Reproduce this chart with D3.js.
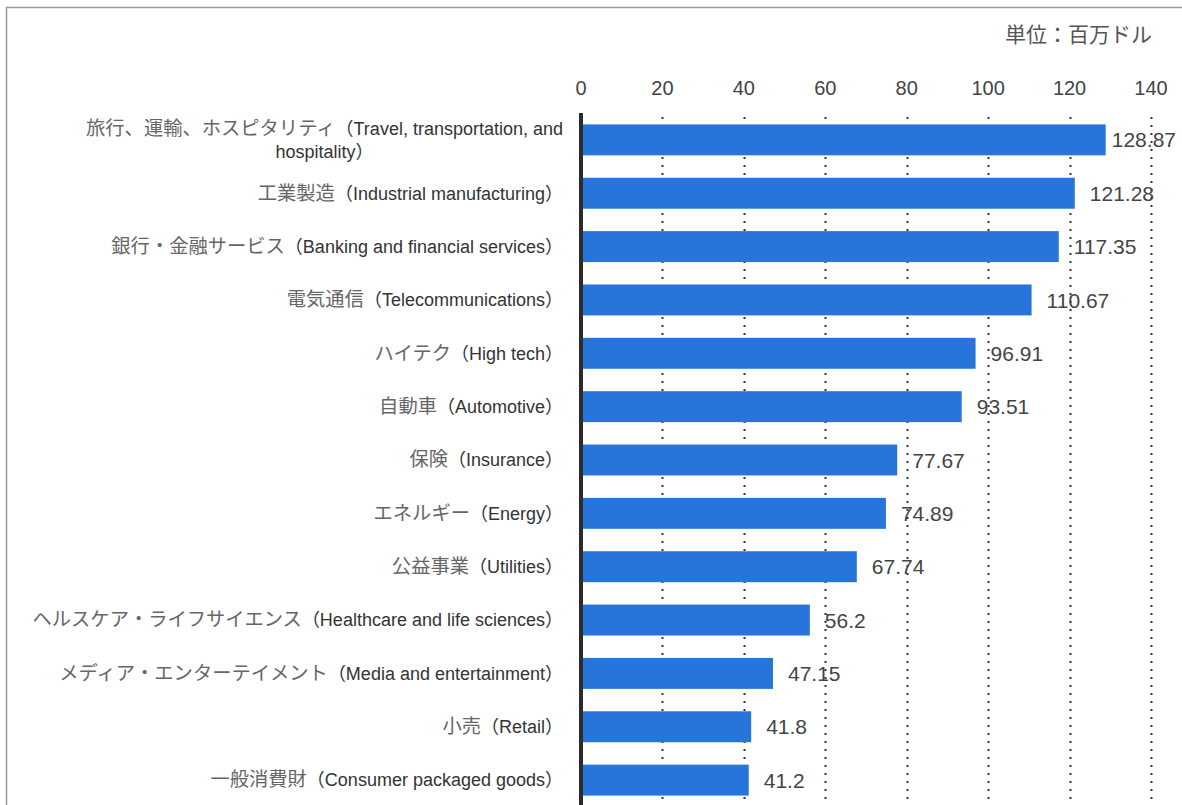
<!DOCTYPE html>
<html>
<head>
<meta charset="utf-8">
<script src="https://cdn.jsdelivr.net/npm/d3@7"></script>
<style>
  body { margin: 0; background: #fff; }
  text { font-family: "Liberation Sans", Arial, "Noto Sans CJK JP", sans-serif; }
</style>
</head>
<body>
<div id="chart"></div>
<script>
var categories = [
  "旅行、運輸、ホスピタリティ（Travel, transportation, and\nhospitality）",
  "工業製造（Industrial manufacturing）",
  "銀行・金融サービス（Banking and financial services）",
  "電気通信（Telecommunications）",
  "ハイテク（High tech）",
  "自動車（Automotive）",
  "保険（Insurance）",
  "エネルギー（Energy）",
  "公益事業（Utilities）",
  "ヘルスケア・ライフサイエンス（Healthcare and life sciences）",
  "メディア・エンターテイメント（Media and entertainment）",
  "小売（Retail）",
  "一般消費財（Consumer packaged goods）"
];
var values = [128.87, 121.28, 117.35, 110.67, 96.91, 93.51, 77.67, 74.89, 67.74, 56.2, 47.15, 41.8, 41.2];
var tickValues = [0, 20, 40, 60, 80, 100, 120, 140];
var unitLabel = "単位：百万ドル";

var svgWidth = 1182;
var svgHeight = 805;

var svg = d3.select("#chart")
  .append("svg")
  .attr("width", svgWidth)
  .attr("height", svgHeight);

// frame lines (top and left)
svg.append("line")
  .attr("x1", 6).attr("y1", 7.5).attr("x2", svgWidth).attr("y2", 7.5)
  .attr("stroke", "#999").attr("stroke-width", 1.5);
svg.append("line")
  .attr("x1", 6.5).attr("y1", 7).attr("x2", 6.5).attr("y2", svgHeight)
  .attr("stroke", "#999").attr("stroke-width", 1.5);

var xScale = d3.scaleLinear()
  .domain([0, 140])
  .range([581, 1151]);

var yScale = d3.scaleBand()
  .domain(categories)
  .range([102, 818])
  .padding(0.42);

// unit
svg.append("text")
  .attr("x", 1152)
  .attr("y", 42)
  .attr("text-anchor", "end")
  .style("font-size", "21px")
  .attr("fill", "#555")
  .text(unitLabel);

// tick labels
svg.append("g")
  .selectAll("text")
  .data(tickValues)
  .enter()
  .append("text")
  .attr("x", d => xScale(d))
  .attr("y", 95)
  .attr("text-anchor", "middle")
  .style("font-size", "20px")
  .attr("fill", "#444")
  .text(d => d);

// dotted gridlines
svg.append("g")
  .selectAll("line")
  .data(tickValues.slice(1))
  .enter()
  .append("line")
  .attr("x1", d => Math.round(xScale(d)) + 0.5)
  .attr("x2", d => Math.round(xScale(d)) + 0.5)
  .attr("y1", 117)
  .attr("y2", svgHeight)
  .attr("stroke", "#333")
  .attr("stroke-width", 2)
  .attr("stroke-dasharray", "2,6");

// bars
svg.append("g")
  .selectAll("rect")
  .data(values)
  .enter()
  .append("rect")
  .attr("x", xScale(0))
  .attr("y", (d, i) => yScale(categories[i]))
  .attr("width", d => xScale(d) - xScale(0))
  .attr("height", yScale.bandwidth())
  .attr("fill", "#2775db");

// axis line
svg.append("line")
  .attr("x1", xScale(0)).attr("x2", xScale(0))
  .attr("y1", 113).attr("y2", svgHeight)
  .attr("stroke", "#2b2b2b")
  .attr("stroke-width", 4);

// value labels
svg.append("g")
  .selectAll("text")
  .data(values)
  .enter()
  .append("text")
  .attr("x", d => xScale(d) + 15)
  .attr("y", (d, i) => yScale(categories[i]) + yScale.bandwidth() / 2)
  .attr("dy", "0.36em")
  .style("font-size", "21px")
  .attr("fill", "#444")
  .text(d => d)
  .each(function() {
    // keep the label inside the chart
    var w = this.getComputedTextLength();
    var x = +d3.select(this).attr("x");
    if (x + w > 1176) d3.select(this).attr("x", 1176 - w);
  });

// category labels
var labelRight = 563;
var lineHeight = 23;
categories.forEach(function(cat, i) {
  var lines = cat.split("\n");
  var cy = yScale(cat) + yScale.bandwidth() / 2;
  var g = svg.append("g");
  var texts = lines.map(function(line, j) {
    var t = g.append("text")
      .attr("y", cy + (j - (lines.length - 1) / 2) * lineHeight)
      .attr("dy", "0.35em")
      .style("font-size", "18px")
      .attr("fill", "#333");
    var k = line.indexOf("（");
    var jp = k >= 0 ? line.slice(0, k) : "";
    var rest = k >= 0 ? line.slice(k) : line;
    if (jp) t.append("tspan").attr("fill", "#666").style("font-size", "19.3px").text(jp);
    t.append("tspan").text(rest);
    return t;
  });
  var w0 = texts[0].node().getComputedTextLength();
  texts.forEach(function(t, j) {
    if (j === 0) {
      t.attr("x", labelRight).attr("text-anchor", "end");
    } else {
      t.attr("x", labelRight - w0 / 2).attr("text-anchor", "middle");
    }
  });
});
</script>
</body>
</html>
